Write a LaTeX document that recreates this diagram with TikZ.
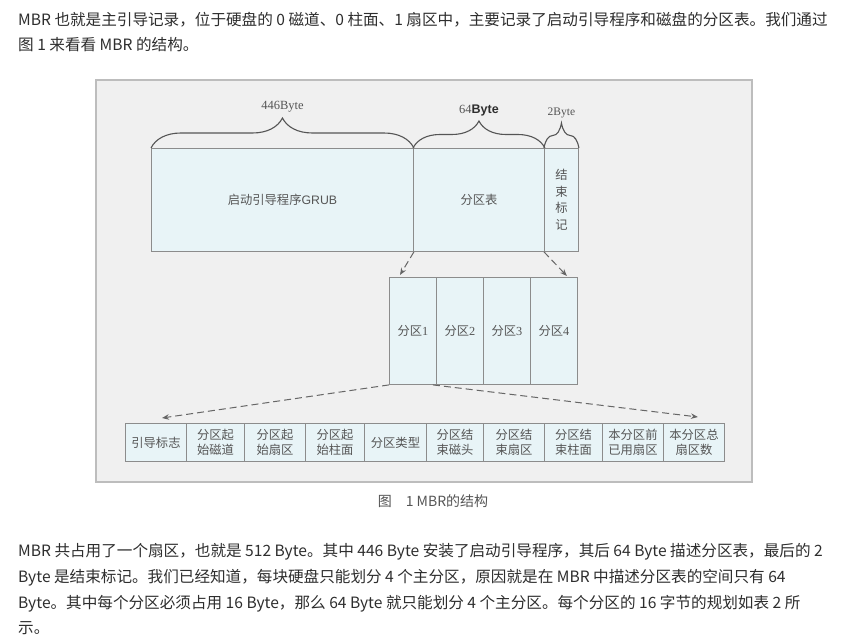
\documentclass[tikz,border=0pt]{standalone}
\usepackage{fontspec}
\setmainfont{Noto Sans CJK SC}
\newfontfamily\byteserif{Liberation Serif}
\newfontfamily\bytesans{Liberation Sans}
\usepackage{tikz}
\usetikzlibrary{positioning, calc, arrows.meta, decorations.pathreplacing}
\usepackage{xcolor}

\definecolor{boxfill}{HTML}{E8F4F7}
\definecolor{boxline}{HTML}{8C8C8C}
\definecolor{framefill}{HTML}{F0F0F0}
\definecolor{framerule}{HTML}{BDBDBD}
\definecolor{labelgray}{HTML}{555555}
\definecolor{bodytext}{HTML}{2E2E2E}

\tikzset{
    cell/.style={draw=boxline, fill=boxfill, line width=0.9pt, anchor=north west,
        inner sep=0pt, text=labelgray, align=center, font=\fontsize{12.3}{15.5}\selectfont},
    ptr/.style={draw=labelgray!90, line width=1pt, dash pattern=on 7pt off 4pt,
        -{Stealth[length=7pt,width=5.5pt]}},
    bytebrace/.style={draw=labelgray, line width=1.1pt, decorate,
        decoration={brace, amplitude=#1}},
    para/.style={anchor=west, inner sep=0pt, text=bodytext, font=\fontsize{15.6}{18}\selectfont},
}

\begin{document}
\begin{tikzpicture}[x=1pt, y=-1pt]
    \useasboundingbox[fill=white] (0,0) rectangle (859,639);

    % text above the figure
    \node[para] (intro1) at (18,20) {MBR 也就是主引导记录，位于硬盘的 0 磁道、0 柱面、1 扇区中，主要记录了启动引导程序和磁盘的分区表。我们通过};
    \node[para] (intro2) at (18,45) {图 1 来看看 MBR 的结构。};

    % figure frame
    \draw[framerule, fill=framefill, line width=1.5pt] (96,80) rectangle (752,482);

    % the 512 byte sector
    \node[cell, minimum width=262pt, minimum height=103pt] (grub) at (151,148) {启动引导程序{\bytesans GRUB}};
    \node[cell, minimum width=131pt, minimum height=103pt] (ptable) at (413,148) {分区表};
    \node[cell, minimum width=34pt, minimum height=103pt, font=\fontsize{12.3}{16.5}\selectfont] (endmark) at (544,148) {结\\束\\标\\记};

    \draw[bytebrace=30pt] (grub.north west) -- (grub.north east)
        node[midway, above=32pt, text=labelgray, font=\byteserif\fontsize{12.5}{14}\selectfont] (sz446) {446Byte};
    \draw[bytebrace=27pt] (ptable.north west) -- (ptable.north east)
        node[midway, above=28pt, text=labelgray, font=\byteserif\fontsize{12.5}{14}\selectfont] (sz64) {64{\bytesans\bfseries\color{bodytext}Byte}};
    \draw[bytebrace=25pt] (endmark.north west) -- (endmark.north east)
        node[midway, above=26pt, text=labelgray, font=\byteserif\fontsize{11.5}{13}\selectfont] (sz2) {2Byte};

    % four partition entries
    \foreach \n [evaluate=\n as \xx using 389+47*(\n-1)] in {1,2,3,4} {
        \node[cell, minimum width=47pt, minimum height=107pt] (p\n) at (\xx,277) {分区{\byteserif\n}};
    }

    % 16 bytes of one entry
    \foreach \xx/\ww/\txt [count=\i] in {125/61/{引导标志}, 186/58/{分区起\\始磁道}, 244/61/{分区起\\始扇区},
        305/59/{分区起\\始柱面}, 364/62/{分区类型}, 426/57/{分区结\\束磁头}, 483/61/{分区结\\束扇区},
        544/58/{分区结\\束柱面}, 602/61/{本分区前\\已用扇区}, 663/61/{本分区总\\扇区数}} {
        \node[cell, minimum width=\ww pt, minimum height=38pt] (f\i) at (\xx,423) {\txt};
    }

    \draw[ptr] (grub.south east) -- ($(p1.north west)+(11,-2)$);
    \draw[ptr] (endmark.south west) -- ($(p4.north east)+(-11,-1)$);
    \draw[ptr] (p1.south west) -- ($(f1.north west)+(37,-5)$);
    \draw[ptr] ($(p1.south east)+(-4,0)$) -- ($(f10.north east)+(-27,-6)$);

    \node[text=labelgray, font=\fontsize{14}{17}\selectfont] (caption) at (433,501) {图\quad 1 MBR的结构};

    % text below the figure
    \node[para] (note1) at (18,552) {MBR 共占用了一个扇区，也就是 512 Byte。其中 446 Byte 安装了启动引导程序，其后 64 Byte 描述分区表，最后的 2};
    \node[para] (note2) at (18,578) {Byte 是结束标记。我们已经知道，每块硬盘只能划分 4 个主分区，原因就是在 MBR 中描述分区表的空间只有 64};
    \node[para] (note3) at (18,604) {Byte。其中每个分区必须占用 16 Byte，那么 64 Byte 就只能划分 4 个主分区。每个分区的 16 字节的规划如表 2 所};
    \node[para] (note4) at (18,628) {示。};
\end{tikzpicture}
\end{document}
